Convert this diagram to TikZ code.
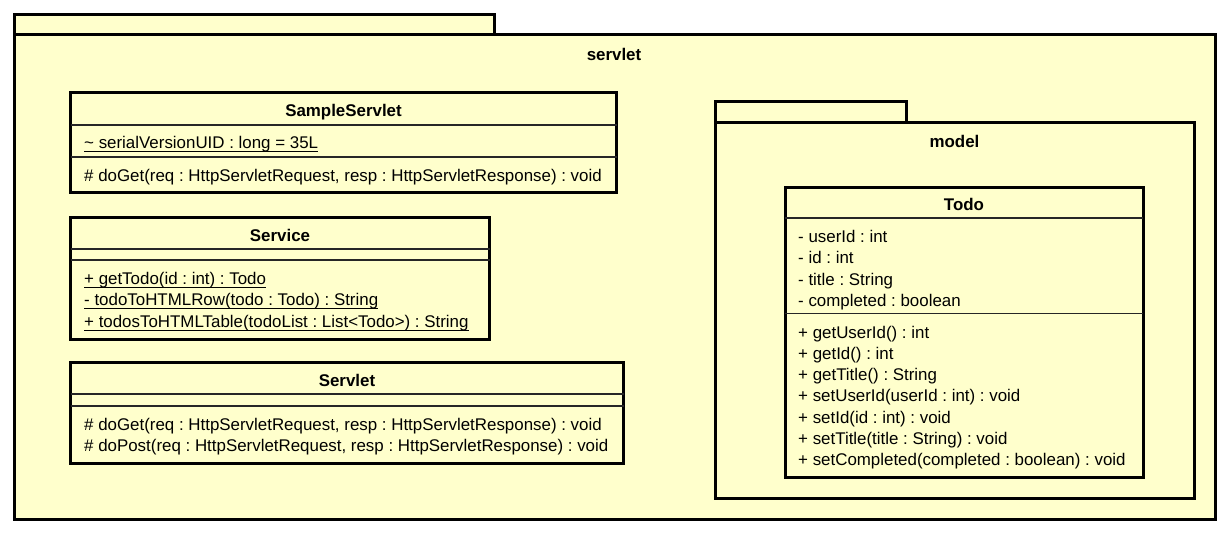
\documentclass[tikz,border=0pt]{standalone}
\usepackage{fontspec}
\setmainfont{Liberation Sans}
\frenchspacing
\definecolor{pkgfill}{RGB}{255,255,204}
\newcommand\umlfont{\fontsize{16.9pt}{21pt}\selectfont}
\begin{document}
\begin{tikzpicture}[x=1pt,y=-1pt,
  umlbox/.style={draw=black, line width=3pt, fill=pkgfill, inner sep=0pt, outer sep=0pt, anchor=north west},
  divider/.style={draw=black!85, line width=1.2pt},
  clstitle/.style={font=\bfseries\umlfont, inner sep=0pt, text height=12pt, text depth=0pt},
  mbr/.style={font=\umlfont, inner sep=0pt, anchor=west, text height=12pt, text depth=0pt},
  uline/.style={line width=1.1pt}
]
\useasboundingbox (0,0) rectangle (1229,533);

% package servlet
\node[umlbox, minimum width=480pt, minimum height=20pt] (servlettab) at (14.5,14.5) {};
\node[umlbox, minimum width=1200.5pt, minimum height=484.5pt] (servletpkg) at (14.5,34.5) {};
\node[clstitle] (servletname) at (614,54) {servlet};

% package model
\node[umlbox, minimum width=191pt, minimum height=21pt] (modeltab) at (715,101.5) {};
\node[umlbox, minimum width=479pt, minimum height=376pt] (modelpkg) at (715,122.5) {};
\node[clstitle] (modelname) at (954.5,141) {model};

% class SampleServlet
\node[umlbox, minimum width=546pt, minimum height=100pt] (ss) at (70.5,92.5) {};
\node[clstitle] (sst) at (ss.center |- 0,110) {SampleServlet};
\draw[divider] (ss.west |- 0,125) -- (ss.east |- 0,125);
\draw[divider] (ss.west |- 0,157) -- (ss.east |- 0,157);
\node[mbr] (ssa1) at (84,142) {\textasciitilde{} serialVersionUID : long = 35L};
\draw[uline] ([yshift=-3.5pt]ssa1.base west) -- ([yshift=-3.5pt]ssa1.base east);
\node[mbr] (ssm1) at (84,175) {\# doGet(req : HttpServletRequest, resp : HttpServletResponse) : void};

% class Service
\node[umlbox, minimum width=419pt, minimum height=122pt] (sv) at (70.5,217.5) {};
\node[clstitle] (svt) at (sv.center |- 0,235) {Service};
\draw[divider] (sv.west |- 0,249) -- (sv.east |- 0,249);
\draw[divider] (sv.west |- 0,260) -- (sv.east |- 0,260);
\node[mbr] (svm1) at (84,278) {+ getTodo(id : int) : Todo};
\node[mbr] (svm2) at (84,299) {- todoToHTMLRow(todo : Todo) : String};
\node[mbr] (svm3) at (84,321) {+ todosToHTMLTable(todoList : List<Todo>) : String};
\draw[uline] ([yshift=-3.5pt]svm1.base west) -- ([yshift=-3.5pt]svm1.base east);
\draw[uline] ([yshift=-3.5pt]svm2.base west) -- ([yshift=-3.5pt]svm2.base east);
\draw[uline] ([yshift=-3.5pt]svm3.base west) -- ([yshift=-3.5pt]svm3.base east);

% class Servlet
\node[umlbox, minimum width=553pt, minimum height=101pt] (sl) at (70.5,362.5) {};
\node[clstitle] (slt) at (sl.center |- 0,380) {Servlet};
\draw[divider] (sl.west |- 0,394) -- (sl.east |- 0,394);
\draw[divider] (sl.west |- 0,406) -- (sl.east |- 0,406);
\node[mbr] (slm1) at (84,424) {\# doGet(req : HttpServletRequest, resp : HttpServletResponse) : void};
\node[mbr] (slm2) at (84,445) {\# doPost(req : HttpServletRequest, resp : HttpServletResponse) : void};

% class Todo
\node[umlbox, minimum width=358pt, minimum height=290pt] (td) at (785,187) {};
\node[clstitle] (tdt) at (td.center |- 0,204) {Todo};
\draw[divider] (td.west |- 0,218) -- (td.east |- 0,218);
\draw[divider] (td.west |- 0,313.5) -- (td.east |- 0,313.5);
\node[mbr] (tda1) at (798,236) {- userId : int};
\node[mbr] (tda2) at (798,257) {- id : int};
\node[mbr] (tda3) at (798,279) {- title : String};
\node[mbr] (tda4) at (798,300) {- completed : boolean};
\node[mbr] (tdm1) at (798,332) {+ getUserId() : int};
\node[mbr] (tdm2) at (798,353) {+ getId() : int};
\node[mbr] (tdm3) at (798,374) {+ getTitle() : String};
\node[mbr] (tdm4) at (798,395) {+ setUserId(userId : int) : void};
\node[mbr] (tdm5) at (798,417) {+ setId(id : int) : void};
\node[mbr] (tdm6) at (798,438) {+ setTitle(title : String) : void};
\node[mbr] (tdm7) at (798,459) {+ setCompleted(completed : boolean) : void};
\end{tikzpicture}
\end{document}
